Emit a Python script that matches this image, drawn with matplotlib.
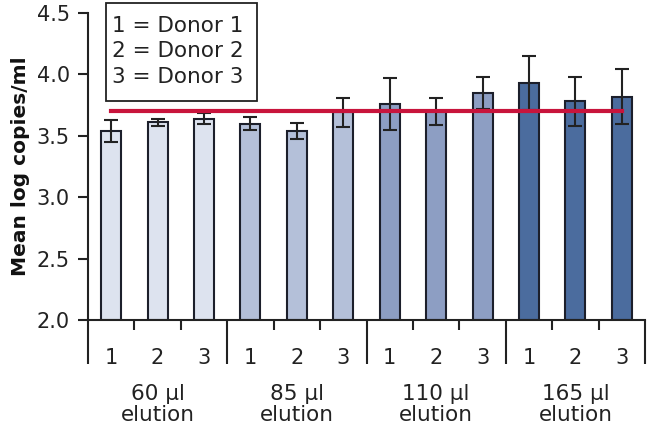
import matplotlib
matplotlib.use("Agg")
import matplotlib.pyplot as plt
from matplotlib.patches import Rectangle
import numpy as np

# data
groups = ["60 µl\nelution", "85 µl\nelution", "110 µl\nelution", "165 µl\nelution"]
donors = ["1", "2", "3"]
means = [3.54, 3.61, 3.64,
         3.60, 3.54, 3.69,
         3.76, 3.70, 3.85,
         3.93, 3.78, 3.82]
errors = [0.09, 0.03, 0.045,
          0.055, 0.065, 0.12,
          0.21, 0.11, 0.13,
          0.22, 0.20, 0.225]
reference_level = 3.70
group_colors = ["#dde3ef", "#b4c0d9", "#8d9ec3", "#4b6c9e"]

plt.rcParams["font.family"] = ["DejaVu Sans"]

fig = plt.figure(figsize=(6.48, 4.37), dpi=100)
ax = fig.add_axes([88 / 648, 1 - 320 / 437, 557 / 648, 307 / 437])

x = np.arange(len(means))
colors = [group_colors[i // 3] for i in x]
ax.bar(x, [m - 2.0 for m in means], bottom=2.0, width=0.43, color=colors,
       edgecolor="#1c1f2b", linewidth=1.5, zorder=2)
ax.errorbar(x, means, yerr=errors, fmt="none", ecolor="#222222",
            elinewidth=1.5, capsize=5, capthick=1.5, zorder=3)
ax.plot([x[0], x[-1]], [reference_level, reference_level], color="#c8143c",
        linewidth=3, zorder=4)

ax.set_xlim(-0.5, 11.5)
ax.set_ylim(2.0, 4.5)
ax.set_yticks([2.0, 2.5, 3.0, 3.5, 4.0, 4.5])
ax.set_yticklabels(["2.0", "2.5", "3.0", "3.5", "4.0", "4.5"])
ax.tick_params(axis="y", direction="out", length=7, width=1.5, labelsize=15,
               colors="#222222", pad=6)

# group separators as long ticks, short ticks between bars
ax.set_xticks([-0.5, 2.5, 5.5, 8.5, 11.5])
ax.set_xticks([0.5, 1.5, 3.5, 4.5, 6.5, 7.5, 9.5, 10.5], minor=True)
ax.tick_params(axis="x", which="major", direction="out", length=32, width=1.5,
               labelbottom=False, colors="#222222")
ax.tick_params(axis="x", which="minor", direction="out", length=7, width=1.5,
               labelbottom=False, colors="#222222")

for side in ["top", "right"]:
    ax.spines[side].set_visible(False)
for side in ["left", "bottom"]:
    ax.spines[side].set_linewidth(1.5)
    ax.spines[side].set_color("#222222")

trans = ax.get_xaxis_transform()
for i in x:
    ax.text(i, -0.125, donors[i % 3], transform=trans, ha="center", va="center",
            fontsize=15, color="#222222")
for g, label in enumerate(groups):
    ax.text(3 * g + 1, -0.275, label, transform=trans, ha="center", va="center",
            fontsize=15.5, color="#222222", linespacing=1.02)

ax.set_ylabel("Mean log copies/ml", fontsize=14.5, fontweight="bold",
              color="#111111", labelpad=5)

# legend box
ax.add_patch(Rectangle((0.032, 0.713), 0.271, 0.32, transform=ax.transAxes,
                       facecolor="white", edgecolor="#222222", linewidth=1.3,
                       clip_on=False, zorder=5))
ax.text(0.043, 0.875, "1 = Donor 1\n2 = Donor 2\n3 = Donor 3",
        transform=ax.transAxes, ha="left", va="center", fontsize=15.5,
        color="#222222", linespacing=1.35, zorder=6, clip_on=False)

fig.savefig("out.png", dpi=100)
